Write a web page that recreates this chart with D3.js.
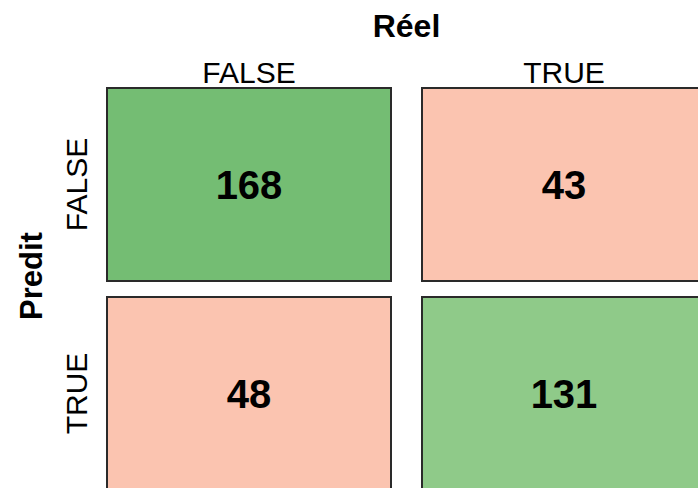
<!DOCTYPE html>
<html>
<head>
<meta charset="utf-8">
<script src="https://cdn.jsdelivr.net/npm/d3@7"></script>
<style>
  body { margin: 0; background: #fff; }
  text { font-family: "Liberation Sans", Arial, sans-serif; }
</style>
</head>
<body>
<svg id="chart" width="698" height="488"></svg>
<script>
"use strict";

var reel = ["FALSE", "TRUE"];
var predit = ["FALSE", "TRUE"];
// counts[predit][reel]
var counts = [
  [168, 43],
  [48, 131]
];
var fills = [
  ["#74bd73", "#fbc4b0"],
  ["#fbc4b0", "#8fca89"]
];

var cells = [];
predit.forEach(function (p, i) {
  reel.forEach(function (r, j) {
    cells.push({ predit: p, reel: r, n: counts[i][j], fill: fills[i][j] });
  });
});

var svg = d3.select("#chart");

var x = d3.scaleBand()
  .domain(reel)
  .range([107, 706])
  .paddingInner(31 / 315);

var y = d3.scaleBand()
  .domain(predit)
  .range([88, 490])
  .paddingInner(16 / 209);

svg.selectAll("rect.cell")
  .data(cells)
  .enter()
  .append("rect")
  .attr("class", "cell")
  .attr("x", function (d) { return x(d.reel); })
  .attr("y", function (d) { return y(d.predit); })
  .attr("width", x.bandwidth())
  .attr("height", y.bandwidth())
  .attr("fill", function (d) { return d.fill; })
  .attr("stroke", "#2a2a2a")
  .attr("stroke-width", 2);

svg.selectAll("text.count")
  .data(cells)
  .enter()
  .append("text")
  .attr("class", "count")
  .attr("x", function (d) { return x(d.reel) + x.bandwidth() / 2; })
  .attr("y", function (d) { return y(d.predit) + y.bandwidth() / 2; })
  .attr("dy", "0.36em")
  .attr("text-anchor", "middle")
  .attr("font-size", 40)
  .attr("font-weight", "bold")
  .attr("fill", "#000")
  .text(function (d) { return d.n; });

// column labels
svg.selectAll("text.collab")
  .data(reel)
  .enter()
  .append("text")
  .attr("class", "collab")
  .attr("x", function (d) { return x(d) + x.bandwidth() / 2; })
  .attr("y", 83)
  .attr("text-anchor", "middle")
  .attr("font-size", 30)
  .text(function (d) { return d; });

// row labels
svg.selectAll("text.rowlab")
  .data(predit)
  .enter()
  .append("text")
  .attr("class", "rowlab")
  .attr("transform", function (d) {
    return "translate(87," + (y(d) + y.bandwidth() / 2) + ") rotate(-90)";
  })
  .attr("text-anchor", "middle")
  .attr("font-size", 30)
  .text(function (d) { return d; });

svg.append("text")
  .attr("x", (x.range()[0] + x.range()[1]) / 2)
  .attr("y", 37)
  .attr("text-anchor", "middle")
  .attr("font-size", 32)
  .attr("font-weight", "bold")
  .text("Réel");

svg.append("text")
  .attr("transform", "translate(42,276) rotate(-90)")
  .attr("text-anchor", "middle")
  .attr("font-size", 31)
  .attr("font-weight", "bold")
  .text("Predit");
</script>
</body>
</html>
